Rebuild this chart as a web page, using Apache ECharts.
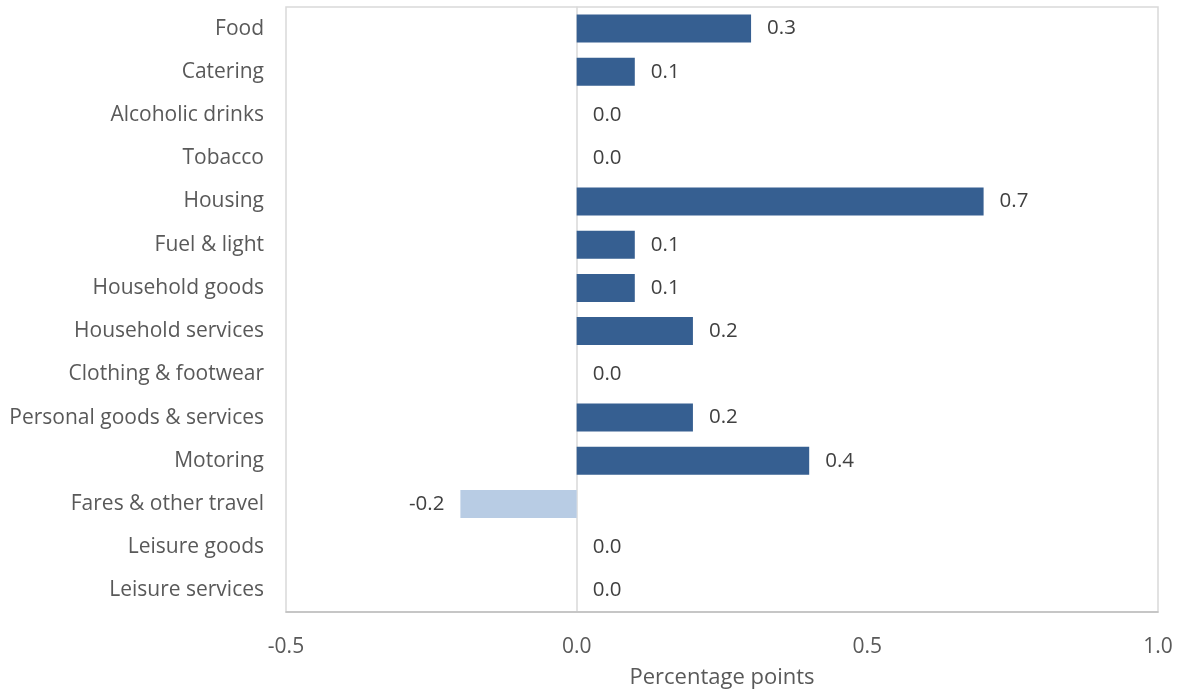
<!DOCTYPE html>
<html><head><meta charset="utf-8">
<script src="https://cdn.jsdelivr.net/npm/echarts@6/dist/echarts.min.js"></script>
<style>html,body{margin:0;padding:0;background:#fff}#c{width:1182px;height:690px}</style>
</head><body><div id="c"></div>
<script>
const categories = ["Food","Catering","Alcoholic drinks","Tobacco","Housing","Fuel & light","Household goods","Household services","Clothing & footwear","Personal goods & services","Motoring","Fares & other travel","Leisure goods","Leisure services"];
const values = [0.3,0.1,0.0,0.0,0.7,0.1,0.1,0.2,0.0,0.2,0.4,-0.2,0.0,0.0];
const xTicks = [-0.5,0.0,0.5,1.0];
const posColor = '#365f91';
const negColor = '#b8cce4';
const font = '"Open Sans", sans-serif';
const chart = echarts.init(document.getElementById('c'));
chart.setOption({
  animation:false,
  grid:{left:286,right:24,top:7,bottom:78,show:true,borderColor:'#d9d9d9',borderWidth:1.5,outerBoundsMode:'none',containLabel:false},
  xAxis:{type:'value',min:xTicks[0],max:xTicks[xTicks.length-1],interval:0.5,
    name:'Percentage points',nameLocation:'middle',nameGap:55,
    nameTextStyle:{fontFamily:font,fontSize:22,color:'#595959'},
    axisLine:{show:true,onZero:false,lineStyle:{color:'#bfbfbf',width:1.5}},
    axisTick:{show:false},splitLine:{show:false},
    axisLabel:{fontFamily:font,fontSize:21,color:'#595959',margin:25,formatter:v=>v.toFixed(1)}},
  yAxis:{type:'category',data:categories,inverse:true,
    axisLine:{show:true,onZero:true,lineStyle:{color:'#d9d9d9',width:1.5}},
    axisTick:{show:false},
    axisLabel:{fontFamily:font,fontSize:21,color:'#595959',margin:22,padding:[9,0,0,0]}},
  series:[{type:'bar',barWidth:28,
    data:values.map(v=>({value:v,itemStyle:{color:v<0?negColor:posColor},
      label:{show:true,position:v<0?'left':'right',distance:16,fontFamily:font,fontSize:20.5,color:'#404040',padding:[6,0,0,0],formatter:p=>p.value.toFixed(1)}}))}]
});
</script></body></html>
